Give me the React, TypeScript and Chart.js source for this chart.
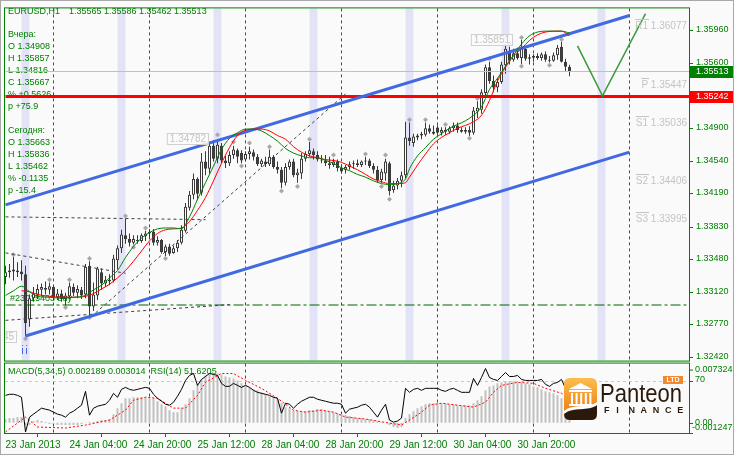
import React, { useEffect, useRef } from 'react';
import { Chart, registerables } from 'chart.js';

Chart.register(...registerables);

const FONT = '"Liberation Sans", Arial, sans-serif';
const GREEN = '#008000';

// ---------- texts ----------
const symbol = 'EURUSD,H1';
const headerValues = '1.35565 1.35586 1.35462 1.35513';
const infoLines = ['Вчера:', 'O 1.34908', 'H 1.35857', 'L 1.34816', 'C 1.35667', '% +0.5626', 'p +75.9', '',
  'Сегодня:', 'O 1.35663', 'H 1.35836', 'L 1.35462', '% -0.1135', 'p -15.4'];
const macdLabel = 'MACD(5,34,5) 0.002189 0.003014  RSI(14) 51.6205';
const orderLabel = '#23015403 buy';

// ---------- axes ----------
const xTickIdx = [0, 16, 32, 48, 64, 80, 96, 112, 128];
const xTickLabels = ['23 Jan 2013', '24 Jan 04:00', '24 Jan 20:00', '25 Jan 12:00', '28 Jan 04:00', '28 Jan 20:00', '29 Jan 12:00', '30 Jan 04:00', '30 Jan 20:00'];
const yTickValues = [1.3596, 1.356, 1.3525, 1.349, 1.3454, 1.3419, 1.3383, 1.3348, 1.3312, 1.3277, 1.3242];
const priceMin = 1.3237385;
const priceMax = 1.3619622;
const macdMin = -0.001247;
const macdMax = 0.007324;
const macdAxisMax = 0.00745;
const rsiLevel = 70;

// ---------- candles (hourly) ----------
const openP = [
  1.3329, 1.3334, 1.3337, 1.3336, 1.3335, 1.3332, 1.3283, 1.3306, 1.3310, 1.3315,
  1.3317, 1.3315, 1.3318, 1.3307, 1.3311, 1.3305, 1.3308, 1.3318, 1.3312, 1.3315,
  1.3310, 1.3341, 1.3297, 1.3309, 1.3334, 1.3322, 1.3326, 1.3325, 1.3347, 1.3360,
  1.3374, 1.3370, 1.3366, 1.3369, 1.3368, 1.3373, 1.3376, 1.3378, 1.3366, 1.3369,
  1.3356, 1.3362, 1.3355, 1.3360, 1.3366, 1.3379, 1.3404, 1.3418, 1.3435, 1.3420,
  1.3454, 1.3446, 1.3471, 1.3457, 1.3471, 1.3455, 1.3452, 1.3461, 1.3466, 1.3463,
  1.3456, 1.3462, 1.3464, 1.3459, 1.3451, 1.3454, 1.3451, 1.3459, 1.3448, 1.3445,
  1.3431, 1.3448, 1.3454, 1.3439, 1.3441, 1.3457, 1.3462, 1.3465, 1.3461, 1.3456,
  1.3455, 1.3452, 1.3450, 1.3454, 1.3447, 1.3445, 1.3448, 1.3451, 1.3452, 1.3450,
  1.3454, 1.3455, 1.3449, 1.3445, 1.3434, 1.3441, 1.3452, 1.3423, 1.3428, 1.3433,
  1.3439, 1.3480, 1.3474, 1.3480, 1.3482, 1.3483, 1.3490, 1.3486, 1.34908, 1.3485,
  1.3488, 1.3486, 1.3490, 1.3493, 1.3488, 1.3486, 1.3488, 1.3485, 1.3508, 1.3510,
  1.3528, 1.3556, 1.3541, 1.3534, 1.3540, 1.3558, 1.3573, 1.3564, 1.3571, 1.3566,
  1.3576, 1.3565, 1.35663, 1.3568, 1.3566, 1.3570, 1.3564, 1.3563, 1.3569, 1.3578,
  1.3562, 1.35565,
];
const highP = [
  1.3341, 1.3343, 1.3351, 1.3345, 1.3347, 1.3341, 1.3310, 1.3318, 1.3321, 1.3322,
  1.3324, 1.3323, 1.3320, 1.3316, 1.3315, 1.3312, 1.3323, 1.3322, 1.3320, 1.3318,
  1.3343, 1.3346, 1.3323, 1.3340, 1.3338, 1.3330, 1.3332, 1.3353, 1.3363, 1.3380,
  1.3392, 1.3376, 1.3374, 1.3374, 1.3376, 1.3379, 1.3381, 1.3381, 1.3373, 1.3370,
  1.3364, 1.3365, 1.3363, 1.3369, 1.3385, 1.3409, 1.3422, 1.3441, 1.3437, 1.3463,
  1.3465, 1.3475, 1.3477, 1.34782, 1.3474, 1.3460, 1.3465, 1.3471, 1.3468, 1.3466,
  1.3465, 1.3470, 1.3467, 1.3462, 1.3457, 1.3459, 1.3467, 1.3461, 1.3454, 1.3448,
  1.3452, 1.3456, 1.3457, 1.3446, 1.3463, 1.3465, 1.3475, 1.3468, 1.3465, 1.3461,
  1.3461, 1.3459, 1.3457, 1.3456, 1.3451, 1.3450, 1.3454, 1.3455, 1.3456, 1.3455,
  1.3459, 1.3457, 1.3452, 1.3449, 1.3446, 1.3457, 1.3454, 1.3433, 1.3436, 1.3443,
  1.3497, 1.3496, 1.3484, 1.3484, 1.3486, 1.3496, 1.3494, 1.3493, 1.3493, 1.3491,
  1.3491, 1.3492, 1.3496, 1.3496, 1.3491, 1.3491, 1.3492, 1.3513, 1.3519, 1.3532,
  1.3559, 1.3562, 1.3547, 1.3544, 1.3562, 1.3581, 1.3578, 1.3576, 1.3577, 1.35857,
  1.3577, 1.3570, 1.3570, 1.3571, 1.3572, 1.3573, 1.3568, 1.3572, 1.3580, 1.35836,
  1.3565, 1.35586,
];
const lowP = [
  1.3321, 1.3328, 1.3325, 1.3329, 1.3325, 1.32645, 1.3275, 1.3302, 1.3305, 1.3308,
  1.3310, 1.3310, 1.3304, 1.3304, 1.3302, 1.3298, 1.3305, 1.3308, 1.3306, 1.3305,
  1.3306, 1.3288, 1.3292, 1.3304, 1.3315, 1.3318, 1.3320, 1.3323, 1.3337, 1.3355,
  1.3365, 1.3362, 1.3364, 1.3365, 1.3366, 1.3368, 1.3370, 1.3363, 1.3363, 1.3354,
  1.3351, 1.3352, 1.3354, 1.3356, 1.3364, 1.3377, 1.3401, 1.3413, 1.3412, 1.3417,
  1.3439, 1.3441, 1.3454, 1.3452, 1.3452, 1.3447, 1.3449, 1.3457, 1.3452, 1.3452,
  1.3454, 1.3456, 1.3455, 1.3449, 1.3448, 1.3448, 1.3449, 1.3446, 1.3441, 1.3425,
  1.3428, 1.3445, 1.3437, 1.3431, 1.3435, 1.3454, 1.3459, 1.3456, 1.3454, 1.3452,
  1.3449, 1.3446, 1.3448, 1.3443, 1.3441, 1.3441, 1.3445, 1.3446, 1.3448, 1.3448,
  1.3450, 1.3447, 1.3441, 1.3431, 1.3431, 1.3433, 1.3417, 1.3420, 1.3424, 1.3426,
  1.3436, 1.3471, 1.3470, 1.3477, 1.3478, 1.3481, 1.3484, 1.3483, 1.3483, 1.3482,
  1.3483, 1.3484, 1.3486, 1.3485, 1.3485, 1.3484, 1.34816, 1.3483, 1.3501, 1.3506,
  1.3525, 1.3538, 1.3529, 1.3529, 1.3538, 1.3549, 1.3559, 1.3562, 1.3564, 1.3559,
  1.3563, 1.3559, 1.3562, 1.3564, 1.3563, 1.3562, 1.3561, 1.3562, 1.3564, 1.3561,
  1.3552, 1.35462,
];
const closeP = [
  1.3334, 1.3336, 1.3335, 1.3334, 1.3332, 1.3279, 1.3306, 1.3311, 1.3316, 1.3318,
  1.3315, 1.3319, 1.3307, 1.3311, 1.3305, 1.3309, 1.3319, 1.3312, 1.3316, 1.3309,
  1.3340, 1.3297, 1.3310, 1.3338, 1.3322, 1.3326, 1.3324, 1.3349, 1.3360, 1.3375,
  1.3370, 1.3366, 1.3370, 1.3368, 1.3374, 1.3376, 1.3378, 1.3366, 1.3369, 1.3356,
  1.3362, 1.3354, 1.3360, 1.3366, 1.3380, 1.3405, 1.3418, 1.3435, 1.3419, 1.3454,
  1.3446, 1.3471, 1.3457, 1.3472, 1.3455, 1.3452, 1.3461, 1.3467, 1.3459, 1.3455,
  1.3462, 1.3465, 1.3459, 1.3451, 1.3455, 1.3451, 1.3459, 1.3448, 1.3445, 1.3431,
  1.3448, 1.3454, 1.3439, 1.3442, 1.3457, 1.3462, 1.3466, 1.3461, 1.3456, 1.3455,
  1.3452, 1.3450, 1.3454, 1.3447, 1.3443, 1.3448, 1.3451, 1.3452, 1.3450, 1.3454,
  1.3455, 1.3449, 1.3445, 1.3434, 1.3443, 1.3454, 1.3422, 1.3428, 1.3433, 1.3439,
  1.3480, 1.3476, 1.3481, 1.3482, 1.3484, 1.3490, 1.3486, 1.3484, 1.3485, 1.3488,
  1.3486, 1.3490, 1.3493, 1.3488, 1.3486, 1.3488, 1.3485, 1.3509, 1.3512, 1.3529,
  1.3556, 1.3541, 1.3534, 1.3540, 1.3559, 1.3576, 1.3563, 1.3571, 1.3566, 1.3577,
  1.3565, 1.35667, 1.3568, 1.3566, 1.3570, 1.3564, 1.3563, 1.3569, 1.3577, 1.3562,
  1.35565, 1.35513,
];

// ---------- fractal markers ----------
const fractalUpIdx = [2, 11, 16, 21, 30, 35, 53, 57, 61, 66, 76, 82, 90, 95, 101, 105, 110, 118, 121, 126, 129, 139];
const fractalUpVal = [1.3353, 1.3326, 1.3326, 1.3349, 1.3395, 1.3382, 1.3483, 1.3475, 1.3474, 1.3470, 1.3478, 1.3461, 1.3462, 1.3461, 1.3499, 1.3499, 1.3494, 1.3522, 1.3565, 1.3581, 1.3588, 1.3586];
const fractalDnIdx = [5, 15, 21, 32, 40, 59, 69, 73, 94, 96, 116, 129, 136];
const fractalDnVal = [1.3262, 1.3296, 1.3285, 1.3361, 1.3349, 1.3449, 1.3422, 1.3427, 1.3427, 1.3413, 1.3479, 1.3557, 1.3558];

// ---------- moving averages ----------
const maIdx = [0, 2, 4, 6, 8, 11, 14, 17, 20, 22, 24, 26, 28, 30, 32, 34, 36, 38, 40, 42, 44, 46, 48, 50, 52, 54, 56, 58, 60, 62,
  64, 66, 68, 70, 72, 74, 76, 78, 80, 82, 84, 86, 88, 90, 92, 94, 96, 98, 100, 101, 103, 105, 107, 109, 111, 113, 115, 117, 119, 121,
  123, 125, 127, 129, 131, 133, 135, 137, 139, 141];
const maFast = [
  1.3309, 1.3314, 1.3319, 1.3313, 1.3308, 1.3307, 1.3306, 1.3307, 1.3309, 1.3315,
  1.3320, 1.3328, 1.3336, 1.3350, 1.3362, 1.3371, 1.3377, 1.3381, 1.3382, 1.3382,
  1.3381, 1.3394, 1.3413, 1.3431, 1.3449, 1.3467, 1.3479, 1.3485, 1.3489, 1.3489,
  1.3487, 1.3482, 1.3476, 1.3468, 1.3463, 1.3460, 1.3458, 1.3458, 1.3455, 1.3452,
  1.3447, 1.3444, 1.3440, 1.3437, 1.3433, 1.3430, 1.3429, 1.3430, 1.3435, 1.3446,
  1.3460, 1.3469, 1.3478, 1.3484, 1.3490, 1.3494, 1.3498, 1.3504, 1.3513, 1.3532,
  1.3544, 1.3557, 1.3569, 1.3581, 1.3590, 1.3594, 1.3595, 1.3595, 1.3595, 1.3593,
];
const maSlowIdx = maIdx.slice(2);
const maSlow = [
  1.3314, 1.3313, 1.3310, 1.3308, 1.3307, 1.3307, 1.3308, 1.3311, 1.3316, 1.3321,
  1.3328, 1.3336, 1.3346, 1.3357, 1.3368, 1.3376, 1.3380, 1.3381, 1.3382, 1.3389,
  1.3401, 1.3415, 1.3433, 1.3452, 1.3469, 1.3482, 1.3488, 1.3489, 1.3489, 1.3487,
  1.3482, 1.3478, 1.3470, 1.3464, 1.3460, 1.3458, 1.3456, 1.3455, 1.3453, 1.3449,
  1.3445, 1.3440, 1.3435, 1.3432, 1.3430, 1.3430, 1.3431, 1.3437, 1.3450, 1.3462,
  1.3473, 1.3480, 1.3485, 1.3490, 1.3493, 1.3497, 1.3504, 1.3520, 1.3541, 1.3556,
  1.3568, 1.3576, 1.3585, 1.3591, 1.3594, 1.3595, 1.3595, 1.3590,
];

// ---------- MACD / RSI ----------
const macdHist = [
  0.00045, 0.00057, 0.00057, 0.00069, 0.00069, -0.0003, -0.00028, 0.00021, 0.00033, 0.00021,
  0.00009, -0.00016, -0.00016, -0.00028, -0.00028, -0.00028, -0.00028, -0.00028, -0.00028, -0.00016,
  -0.00004, 0.00009, 0.00009, 0.00021, 0.00033, 0.00033, 0.00045, 0.00105, 0.00178, 0.00238,
  0.00298, 0.00298, 0.00311, 0.00311, 0.00311, 0.00311, 0.00298, 0.00298, 0.00262, 0.00226,
  0.00202, 0.00153, 0.00129, 0.00129, 0.00178, 0.00226, 0.00298, 0.00395, 0.00468, 0.00528,
  0.00576, 0.00600, 0.00600, 0.00600, 0.00588, 0.00564, 0.00552, 0.00540, 0.00516, 0.00480,
  0.00455, 0.00431, 0.00407, 0.00395, 0.00371, 0.00347, 0.00323, 0.00311, 0.00286, 0.00238,
  0.00190, 0.00178, 0.00153, 0.00141, 0.00141, 0.00141, 0.00153, 0.00153, 0.00166, 0.00166,
  0.00153, 0.00141, 0.00129, 0.00117, 0.00105, 0.00093, 0.00081, 0.00069, 0.00057, 0.00057,
  0.00045, 0.00045, 0.00033, 0.00021, 0.00009, -0.00004, -0.00028, -0.00052, -0.00064, -0.00052,
  0.00057, 0.00105, 0.00141, 0.00178, 0.00202, 0.00226, 0.00238, 0.00238, 0.00238, 0.00238,
  0.00238, 0.00226, 0.00226, 0.00214, 0.00214, 0.00214, 0.00214, 0.00238, 0.00274, 0.00323,
  0.00395, 0.00443, 0.00455, 0.00480, 0.00492, 0.00504, 0.00504, 0.00504, 0.00492, 0.00492,
  0.00480, 0.00468, 0.00443, 0.00431, 0.00407, 0.00383, 0.00371, 0.00359, 0.00335, 0.00298,
  0.00262, 0.002189,
];
const signalIdx = [0, 5, 8, 15, 20, 26, 30, 32, 35, 38, 42, 45, 48, 50, 54, 57, 60, 64, 68, 72, 75, 79, 82, 85, 90, 96, 99, 101, 104, 106, 109, 113, 117, 120, 122, 124, 128, 132, 135, 139, 141];
const signalVal = [-0.00112, 0.00069, -0.00052, -0.00064, -0.00028, 0.00033, 0.00153, 0.00274, 0.00311, 0.00298,
  0.00178, 0.00178, 0.00335, 0.00492, 0.00600, 0.00600, 0.00516, 0.00419, 0.00298, 0.00153,
  0.00129, 0.00153, 0.00129, 0.00069, 0.00045, -0.00004, -0.00028, 0.00033, 0.00129, 0.00214,
  0.00238, 0.00214, 0.00190, 0.00250, 0.00371, 0.00455, 0.00492, 0.00480, 0.00419, 0.00359, 0.003014];
const rsiVal = [
  51.1, 52.5, 52.5, 51.1, 48.5, 1.3, 21.5, 25.6, 29.6, 33.7,
  32.3, 31.0, 28.3, 25.6, 24.2, 21.5, 26.9, 29.6, 33.7, 37.7,
  56.5, 24.2, 33.7, 36.3, 37.7, 39.0, 44.4, 53.8, 48.5, 59.2,
  61.9, 59.2, 57.9, 59.2, 60.6, 61.9, 60.6, 52.5, 47.1, 43.1,
  39.0, 37.7, 41.7, 49.8, 59.2, 71.3, 78.1, 80.8, 64.6, 72.7,
  76.7, 80.8, 79.4, 78.1, 67.3, 63.3, 63.3, 67.3, 64.6, 61.9,
  64.6, 61.9, 57.9, 55.2, 53.8, 52.5, 51.1, 48.5, 47.1, 26.9,
  40.4, 39.0, 33.7, 39.0, 43.1, 45.8, 48.5, 48.5, 45.8, 44.4,
  43.1, 41.7, 40.4, 40.4, 39.0, 26.9, 32.3, 33.7, 35.0, 37.7,
  39.0, 35.0, 28.3, 21.5, 31.0, 39.0, 17.5, 14.8, 16.2, 20.2,
  60.6, 55.2, 59.2, 60.6, 57.9, 60.6, 60.6, 60.6, 60.6, 57.9,
  56.5, 59.2, 60.6, 57.9, 55.2, 55.2, 55.2, 74.0, 64.6, 75.4,
  87.5, 75.4, 72.7, 71.3, 76.7, 82.1, 76.7, 76.7, 78.1, 72.7,
  71.3, 71.3, 71.3, 71.3, 72.7, 66.0, 63.3, 67.3, 68.6, 72.7,
  60.6, 51.6205,
];

// ---------- chart objects ----------
const channelUpIdx = [0, 156];
const channelUpVal = [1.3407, 1.3612];
const channelDnIdx = [5, 156];
const channelDnVal = [1.3265, 1.3464];
const projIdx = [143, 149.25, 160];
const projVal = [1.3579, 1.3525, 1.3614];
const trendLines = [
  { idx: [0, 50], val: [1.3394, 1.3391] },
  { idx: [22.5, 85], val: [1.3290, 1.3527] },
  { idx: [0, 30], val: [1.3355, 1.3333] },
  { idx: [0, 56], val: [1.3282, 1.3299] },
];
const fullSpan = [0, 171];
const orderPrice = 1.32986;
const bidPrice = 1.35513;
const levelPrice = 1.35242;
const pivotNames = ['R1', 'P', 'S1', 'S2', 'S3'];
const pivotValues = [1.36077, 1.35447, 1.35036, 1.34406, 1.33995];
const noteIdx = [53, 129, 5];
const noteVal = [1.34782, 1.35851, 1.32645];
const sessionStarts = [4, 28, 52, 76, 100, 124, 148];
const sessionLen = 2;
const daySeparators = [12, 36, 60, 84, 108, 132, 156];

function drawLogo(ctx: CanvasRenderingContext2D) {
  ctx.save();
  const ix = 564, iy = 378, iw = 33, ih = 42, r = 6;
  ctx.beginPath();
  ctx.moveTo(ix + r, iy); ctx.lineTo(ix + iw - r, iy); ctx.quadraticCurveTo(ix + iw, iy, ix + iw, iy + r);
  ctx.lineTo(ix + iw, iy + ih - r); ctx.quadraticCurveTo(ix + iw, iy + ih, ix + iw - r, iy + ih);
  ctx.lineTo(ix + r, iy + ih); ctx.quadraticCurveTo(ix, iy + ih, ix, iy + ih - r);
  ctx.lineTo(ix, iy + r); ctx.quadraticCurveTo(ix, iy, ix + r, iy); ctx.closePath();
  ctx.clip();
  const g = ctx.createLinearGradient(ix, iy, ix, iy + ih);
  g.addColorStop(0, '#fdbd4e'); g.addColorStop(0.55, '#f39325'); g.addColorStop(1, '#e0701a');
  ctx.fillStyle = g; ctx.fillRect(ix, iy, iw, ih);
  ctx.fillStyle = '#ffffff';
  ctx.beginPath(); ctx.moveTo(ix + 5, iy + 11); ctx.lineTo(ix + iw / 2, iy + 5); ctx.lineTo(ix + iw - 5, iy + 11); ctx.closePath(); ctx.fill();
  ctx.fillRect(ix + 5, iy + 12, iw - 10, 2);
  for (let k = 0; k < 5; k++) ctx.fillRect(ix + 7 + k * 4.6, iy + 15, 2, 11);
  ctx.fillRect(ix + 5, iy + 26, iw - 10, 2);
  ctx.beginPath(); ctx.moveTo(ix, iy + 33); ctx.bezierCurveTo(ix + 10, iy + 25, ix + 24, iy + 31, ix + iw, iy + 24); ctx.lineTo(ix + iw, iy + ih); ctx.lineTo(ix, iy + ih); ctx.closePath(); ctx.fill();
  ctx.fillStyle = '#2b1a0c';
  ctx.beginPath(); ctx.moveTo(ix, iy + 36); ctx.bezierCurveTo(ix + 10, iy + 28, ix + 24, iy + 34, ix + iw, iy + 27); ctx.lineTo(ix + iw, iy + ih); ctx.lineTo(ix, iy + ih); ctx.closePath(); ctx.fill();
  ctx.restore();

  ctx.save();
  ctx.fillStyle = '#2b1a0c';
  ctx.font = `26px ${FONT}`;
  ctx.textBaseline = 'alphabetic'; ctx.textAlign = 'left';
  const w = ctx.measureText('Panteon').width;
  ctx.translate(600, 402);
  ctx.scale(82 / w, 1);
  ctx.fillText('Panteon', 0, 0);
  ctx.restore();

  ctx.save();
  ctx.fillStyle = '#2b1a0c';
  ctx.font = `bold 9px ${FONT}`;
  ctx.textBaseline = 'alphabetic'; ctx.textAlign = 'left';
  'FINANCE'.split('').forEach((ch, k) => ctx.fillText(ch, 604 + k * 12.2, 413));
  ctx.fillStyle = '#f08a30';
  ctx.fillRect(663, 376, 20, 8);
  ctx.fillStyle = '#ffffff';
  ctx.font = `bold 7px ${FONT}`;
  ctx.textAlign = 'center'; ctx.textBaseline = 'middle';
  ctx.fillText('LTD', 673, 380.5);
  ctx.restore();
}

const mt4Plugin = {
  id: 'mt4',
  beforeDraw(chart: any) {
    const { ctx, width, height } = chart;
    ctx.save();
    ctx.fillStyle = '#fafafa';
    ctx.fillRect(0, 0, width, height);
    ctx.restore();
  },
  beforeDatasetsDraw(chart: any) {
    const { ctx } = chart;
    const xs = chart.scales.x, ys = chart.scales.y, y2 = chart.scales.y2, y3 = chart.scales.y3;
    const left = xs.left, right = xs.right;
    const mTop = ys.top, mBot = ys.bottom - 1;
    const pTop = y2.top + 2, pBot = y2.bottom;
    ctx.save();
    ctx.fillStyle = '#e3e3f8';
    for (const b of sessionStarts) {
      const a = xs.getPixelForValue(b), c = xs.getPixelForValue(b + sessionLen);
      const x0 = Math.max(a, left), x1 = Math.min(c, right);
      if (x1 > x0) ctx.fillRect(x0, mTop, x1 - x0, mBot - mTop);
    }
    ctx.strokeStyle = GREEN; ctx.lineWidth = 1; ctx.setLineDash([3, 3]);
    for (const d of daySeparators) {
      const x = Math.floor(xs.getPixelForValue(d)) + 0.5;
      if (x > right) continue;
      ctx.beginPath(); ctx.moveTo(x, mTop); ctx.lineTo(x, mBot); ctx.moveTo(x, pTop); ctx.lineTo(x, pBot); ctx.stroke();
    }
    ctx.strokeStyle = '#c8c8c8';
    const yl = Math.floor(y3.getPixelForValue(rsiLevel)) + 0.5;
    ctx.beginPath(); ctx.moveTo(left, yl); ctx.lineTo(right, yl); ctx.stroke();
    ctx.setLineDash([]);

    ctx.fillStyle = GREEN; ctx.font = `9px ${FONT}`; ctx.textBaseline = 'middle'; ctx.textAlign = 'left';
    ctx.fillText(symbol, 8, 12);
    ctx.fillText(headerValues, 69, 12);
    infoLines.forEach((t, k) => { if (t) ctx.fillText(t, 8, 35 + k * 12); });
    ctx.fillText(orderLabel, 10, ys.getPixelForValue(orderPrice) - 6);
    ctx.fillText(macdLabel, 8, y2.top + 10);
    ctx.restore();
  },
  afterDraw(chart: any) {
    const { ctx, width, height } = chart;
    const xs = chart.scales.x, ys = chart.scales.y, y2 = chart.scales.y2, y3 = chart.scales.y3;
    const left = xs.left, right = xs.right;
    ctx.save();
    // panel borders
    ctx.strokeStyle = GREEN; ctx.lineWidth = 1;
    ctx.strokeRect(left - 0.5, ys.top - 0.5, right - left + 1, ys.bottom - ys.top);
    ctx.strokeRect(left - 0.5, y2.top + 1.5, right - left + 1, y2.bottom - y2.top - 1);

    // price notes in chart
    ctx.save();
    ctx.beginPath(); ctx.rect(left, ys.top, right - left, ys.bottom - ys.top); ctx.clip();
    ctx.font = `10px ${FONT}`;
    noteIdx.forEach((i, k) => {
      const p = noteVal[k];
      const txt = p.toFixed(5);
      const w = ctx.measureText(txt).width + 6;
      const xr = Math.round(xs.getPixelForValue(i)) - 9;
      const yc = Math.round(ys.getPixelForValue(p));
      ctx.fillStyle = 'rgba(250,250,250,0.85)'; ctx.fillRect(xr - w, yc - 6, w, 12);
      ctx.strokeStyle = '#d0d0d0'; ctx.strokeRect(xr - w + 0.5, yc - 5.5, w - 1, 11);
      ctx.fillStyle = '#c4c4c4'; ctx.textBaseline = 'middle'; ctx.textAlign = 'right';
      ctx.fillText(txt, xr - 3, yc + 0.5);
    });
    // pivot levels
    ctx.fillStyle = '#c4c4c4'; ctx.strokeStyle = '#c4c4c4'; ctx.textAlign = 'left'; ctx.textBaseline = 'top';
    pivotNames.forEach((n, k) => {
      const v = pivotValues[k];
      const txt = `${n} ${v.toFixed(5)}`;
      const w = ctx.measureText(txt).width;
      const x0 = right - 2 - w;
      const pw = ctx.measureText(n).width;
      const yy = Math.max(Math.round(ys.getPixelForValue(v)), 19) + 0.5;
      ctx.beginPath(); ctx.moveTo(x0, yy); ctx.lineTo(x0 + pw + 1, yy); ctx.stroke();
      ctx.fillText(txt, x0, yy + 1.5);
    });
    ctx.restore();

    // arrows under the low bar
    ctx.fillStyle = '#4169e1';
    const ax = Math.floor(xs.getPixelForValue(fractalDnIdx[0]));
    [ax - 3, ax + 1].forEach((x) => { ctx.fillRect(x, 345, 1, 1); ctx.fillRect(x, 348, 1, 6); });

    // right price tags
    const tag = (price: number, bg: string) => {
      const y = Math.round(ys.getPixelForValue(price));
      ctx.fillStyle = bg; ctx.fillRect(right + 1, y - 6, width - right - 1, 12);
      ctx.fillStyle = '#ffffff'; ctx.font = `9px ${FONT}`; ctx.textBaseline = 'middle'; ctx.textAlign = 'left';
      ctx.fillText(price.toFixed(5), right + 7, y);
    };
    tag(bidPrice, GREEN);
    tag(levelPrice, '#ff0000');

    // MACD / RSI pane labels
    ctx.fillStyle = GREEN; ctx.strokeStyle = GREEN; ctx.font = `9px ${FONT}`; ctx.textAlign = 'left'; ctx.textBaseline = 'middle';
    const yTop = y2.top + 8, y70 = Math.round(y3.getPixelForValue(rsiLevel)), y0 = Math.round(y2.getPixelForValue(0)), yBot = y2.bottom - 5;
    ctx.fillText(macdMax.toFixed(6), right + 6, yTop);
    ctx.fillText(String(rsiLevel), right + 6, y70 - 1);
    ctx.fillText('0.00', right + 6, y0);
    ctx.fillText(macdMin.toFixed(6), right + 3, yBot);
    [yTop, y70, y0, y2.bottom].forEach((y) => { ctx.beginPath(); ctx.moveTo(right, y + 0.5); ctx.lineTo(right + 4, y + 0.5); ctx.stroke(); });

    drawLogo(ctx);

    // outer frame
    ctx.strokeStyle = '#a8a8a8';
    ctx.strokeRect(0.5, 0.5, width - 1, height - 1);
    ctx.restore();
  },
};

const bodyColors = closeP.map((c, i) => (c >= openP[i] ? '#ffffff' : '#404040'));
const idxs = openP.map((_, i) => i);
const pts = (xs: number[], ys: number[]) => xs.map((x, k) => ({ x, y: ys[k] }));

export default function App() {
  const ref = useRef<HTMLCanvasElement>(null);
  useEffect(() => {
    Chart.defaults.font.family = FONT;
    const lineBase = { type: 'line', pointRadius: 0, yAxisID: 'y', fill: false };
    const datasets: any[] = [
      { ...lineBase, data: pts(maIdx, maFast), borderColor: GREEN, borderWidth: 1, cubicInterpolationMode: 'monotone', order: 0 },
      { ...lineBase, data: pts(maSlowIdx, maSlow), borderColor: '#ff0000', borderWidth: 1, cubicInterpolationMode: 'monotone', order: 0 },
      { ...lineBase, data: pts(channelUpIdx, channelUpVal), borderColor: '#4169e1', borderWidth: 3, order: 1 },
      { ...lineBase, data: pts(channelDnIdx, channelDnVal), borderColor: '#4169e1', borderWidth: 3, order: 1 },
      { ...lineBase, data: pts(projIdx, projVal), borderColor: '#3c9a3c', borderWidth: 1.5, order: 1 },
      ...trendLines.map((t) => ({ ...lineBase, data: pts(t.idx, t.val), borderColor: '#404040', borderWidth: 1, borderDash: [3, 3], order: 1 })),
      { ...lineBase, data: pts(fullSpan, [orderPrice, orderPrice]), borderColor: '#006400', borderWidth: 1, borderDash: [10, 3, 3, 3], order: 1 },
      { ...lineBase, data: pts(fullSpan, [bidPrice, bidPrice]), borderColor: '#c0c0c0', borderWidth: 1, order: 1 },
      { ...lineBase, data: pts(fullSpan, [levelPrice, levelPrice]), borderColor: '#ff0000', borderWidth: 3, order: 1 },
      { type: 'line', data: pts(fractalUpIdx, fractalUpVal), showLine: false, pointStyle: 'rectRot', pointRadius: 2.5, pointBackgroundColor: '#a8a8a8', pointBorderWidth: 0, yAxisID: 'y', order: 2 },
      { type: 'line', data: pts(fractalDnIdx, fractalDnVal), showLine: false, pointStyle: 'rectRot', pointRadius: 2.5, pointBackgroundColor: '#a8a8a8', pointBorderWidth: 0, yAxisID: 'y', order: 2 },
      { type: 'bar', data: idxs.map((i) => ({ x: i, y: [openP[i], closeP[i]] })), backgroundColor: bodyColors, borderColor: '#3a3a3a', borderWidth: 1, borderSkipped: false, barThickness: 3, grouped: false, inflateAmount: 0, minBarLength: 1, yAxisID: 'y', order: 3 },
      { type: 'bar', data: idxs.map((i) => ({ x: i, y: [lowP[i], highP[i]] })), backgroundColor: '#3a3a3a', borderWidth: 0, barThickness: 1, grouped: false, inflateAmount: 0, yAxisID: 'y', order: 4 },
      { type: 'line', data: idxs.map((i) => ({ x: i, y: rsiVal[i] })), borderColor: '#000000', borderWidth: 1, pointRadius: 0, yAxisID: 'y3', order: 5 },
      { type: 'line', data: pts(signalIdx, signalVal), borderColor: '#ff0000', borderWidth: 1, borderDash: [2, 2], pointRadius: 0, yAxisID: 'y2', order: 6 },
      { type: 'bar', data: idxs.map((i) => ({ x: i, y: macdHist[i] })), backgroundColor: '#c0c0c0', borderWidth: 0, barThickness: 2, grouped: false, inflateAmount: 0, yAxisID: 'y2', order: 7 },
    ];

    const chart = new Chart(ref.current as HTMLCanvasElement, {
      type: 'bar',
      data: { datasets },
      plugins: [mt4Plugin],
      options: {
        responsive: false,
        animation: false,
        devicePixelRatio: 1,
        events: [],
        layout: { padding: { left: 5, top: 5, right: 0, bottom: 0 } },
        plugins: { legend: { display: false }, tooltip: { enabled: false } },
        scales: {
          x: {
            type: 'linear', min: -0.125, max: 170.875, offset: false,
            border: { display: false },
            grid: { drawOnChartArea: false, drawTicks: true, tickLength: 4, color: GREEN },
            ticks: { autoSkip: false, maxRotation: 0, align: 'start', padding: 2, color: GREEN, font: { size: 10, family: FONT },
              callback: (_v: any, k: number) => xTickLabels[k] ?? '' },
            afterBuildTicks: (s: any) => { s.ticks = xTickIdx.map((v) => ({ value: v })); },
            afterFit: (s: any) => { s.height = 22; },
          },
          y: {
            type: 'linear', position: 'right', stack: 'panes', stackWeight: 356, min: priceMin, max: priceMax,
            border: { display: false },
            grid: { drawOnChartArea: false, drawTicks: true, tickLength: 4, color: GREEN },
            ticks: { padding: 3, labelOffset: -1, color: GREEN, font: { size: 9, family: FONT }, callback: (v: any) => Number(v).toFixed(5) },
            afterBuildTicks: (s: any) => { s.ticks = yTickValues.map((v) => ({ value: v })); },
            afterFit: (s: any) => { s.width = 45; },
          },
          y2: {
            type: 'linear', position: 'right', stack: 'panes', stackWeight: 72, min: macdMin, max: macdAxisMax,
            border: { display: false }, grid: { display: false }, ticks: { display: false },
            afterFit: (s: any) => { s.width = 45; },
          },
          y3: { type: 'linear', position: 'right', display: false, min: 0, max: 576.1 },
        },
      } as any,
    } as any);
    return () => chart.destroy();
  }, []);
  return (
    <div style={{ position: 'fixed', left: 0, top: 0, width: 734, height: 455, background: '#fafafa' }}>
      <canvas ref={ref} width={734} height={455} style={{ display: 'block' }} />
    </div>
  );
}
